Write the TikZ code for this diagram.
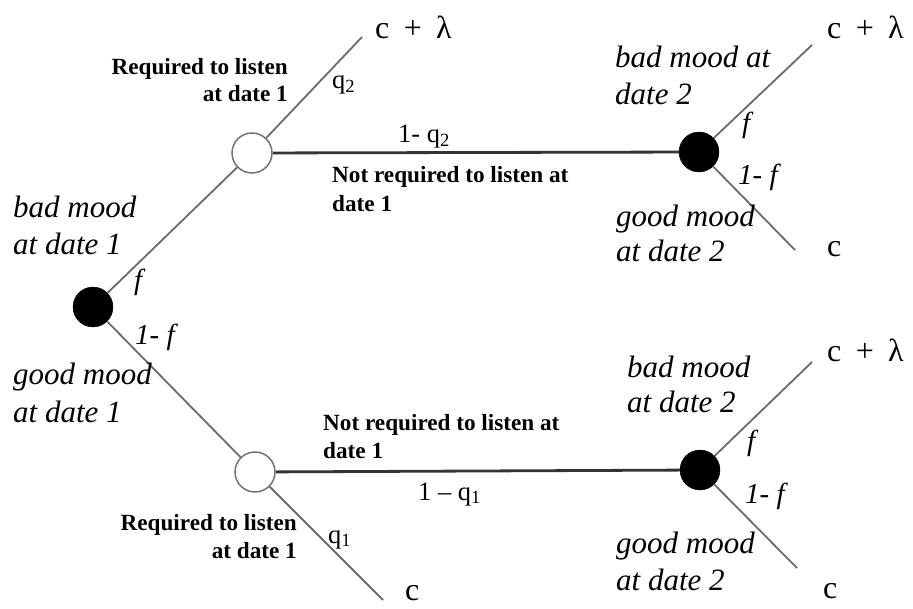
\documentclass[tikz,border=0pt]{standalone}
\usepackage{fontspec}
\setmainfont{Liberation Serif}
\newcommand{\cplus}{c\hspace{0.45em}+\hspace{0.45em}λ}
\begin{document}
\begin{tikzpicture}[x=1pt,y=-1pt,
  chance/.style={circle,fill=black,draw=black,minimum size=40pt,inner sep=0pt},
  choice/.style={circle,fill=white,draw=black!55,line width=1.5pt,minimum size=40pt,inner sep=0pt},
  branch/.style={draw=black!58,line width=1.8pt},
  hbranch/.style={draw=black!80,line width=2.8pt},
  mood/.style={font=\fontsize{31}{34}\selectfont\itshape,inner sep=0pt},
  prob/.style={font=\fontsize{29}{32}\selectfont\itshape,inner sep=0pt},
  qlab/.style={font=\fontsize{26.5}{32}\selectfont,inner sep=0pt},
  req/.style={font=\fontsize{23.2}{25}\selectfont\bfseries,inner sep=0pt},
  pay/.style={font=\fontsize{32}{36}\selectfont,inner sep=0pt}]
\useasboundingbox (0,0) rectangle (913,609);
% decision / chance nodes
\node[chance] (root) at (93,307) {};
\node[choice] (u) at (252,153) {};
\node[choice] (l) at (255,472) {};
\node[chance] (ur) at (699,152) {};
\node[chance] (lr) at (700,470) {};
% free ends
\coordinate (e1) at (362,37);
\coordinate (e2) at (812,45);
\coordinate (e3) at (795,250);
\coordinate (e4) at (383,600);
\coordinate (e5) at (812,362);
\coordinate (e6) at (797,568);
% branches
\draw[branch] (root) -- (u);
\draw[branch] (u) -- (e1);
\draw[hbranch] (u) -- (ur);
\draw[branch] (ur) -- (e2);
\draw[branch] (ur) -- (e3);
\draw[branch] (root) -- (l);
\draw[branch] (l) -- (e4);
\draw[hbranch] (l) -- (lr);
\draw[branch] (lr) -- (e5);
\draw[branch] (lr) -- (e6);
% payoffs
\node[pay,anchor=base west] (p1) at (375,39) {\cplus};
\node[pay,anchor=base west] (p2) at (827,39) {\cplus};
\node[pay,anchor=base west] (p3) at (827,257) {c};
\node[pay,anchor=base west] (p4) at (827,362) {\cplus};
\node[pay,anchor=base west] (p5) at (823,598) {c};
\node[pay,anchor=base west] (p6) at (405,600) {c};
% left labels
\node[mood,anchor=base west] (bm1a) at (13,218) {bad mood};
\node[mood,anchor=base west] (bm1b) at (13,255) {at date 1};
\node[prob,anchor=base west] (f1) at (134,290) {f};
\node[prob,anchor=base west] (nf1) at (135,345) {1- f};
\node[mood,anchor=base west] (gm1a) at (13,385) {good mood};
\node[mood,anchor=base west] (gm1b) at (13,423) {at date 1};
% upper choice labels
\node[req,anchor=base east] (r1a) at (288,75) {Required to listen};
\node[req,anchor=base east] (r1b) at (288,102) {at date 1};
\node[qlab,anchor=base west] (q2) at (332,89) {q\textsubscript{2}};
\node[qlab,anchor=base west] (nq2) at (398,143) {1- q\textsubscript{2}};
\node[req,anchor=base west] (n1a) at (332,183) {Not required to listen at};
\node[req,anchor=base west] (n1b) at (332,212) {date 1};
% lower choice labels
\node[req,anchor=base west] (n2a) at (323,430) {Not required to listen at};
\node[req,anchor=base west] (n2b) at (323,458) {date 1};
\node[qlab,anchor=base west] (nq1) at (418,500) {1 – q\textsubscript{1}};
\node[req,anchor=base east] (r2a) at (297,530) {Required to listen};
\node[req,anchor=base east] (r2b) at (297,558) {at date 1};
\node[qlab,anchor=base west] (q1) at (328,543) {q\textsubscript{1}};
% upper right labels
\node[mood,anchor=base west] (bm2a) at (615,68) {bad mood at};
\node[mood,anchor=base west] (bm2b) at (615,105) {date 2};
\node[prob,anchor=base west] (f2) at (742,133) {f};
\node[prob,anchor=base west] (nf2) at (738,185) {1- f};
\node[mood,anchor=base west] (gm2a) at (616,227) {good mood};
\node[mood,anchor=base west] (gm2b) at (616,262) {at date 2};
% lower right labels
\node[mood,anchor=base west] (bm3a) at (627,378) {bad mood};
\node[mood,anchor=base west] (bm3b) at (627,413) {at date 2};
\node[prob,anchor=base west] (f3) at (747,450) {f};
\node[prob,anchor=base west] (nf3) at (745,503) {1- f};
\node[mood,anchor=base west] (gm3a) at (616,553) {good mood};
\node[mood,anchor=base west] (gm3b) at (616,590) {at date 2};
\end{tikzpicture}
\end{document}
